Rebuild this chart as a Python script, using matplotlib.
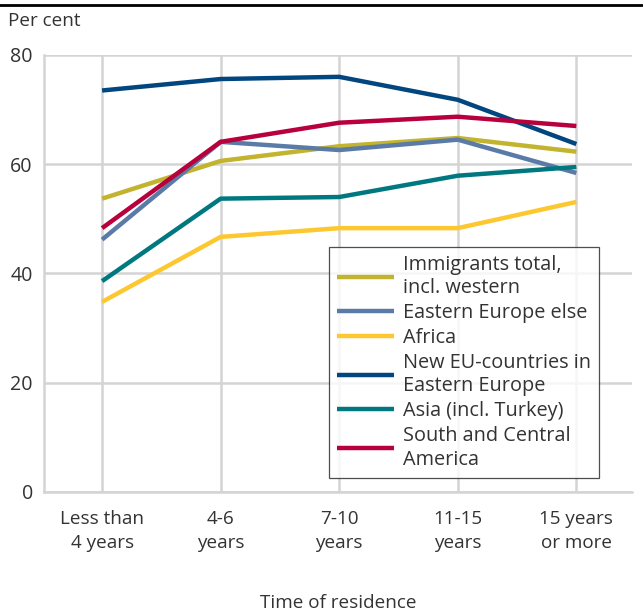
import matplotlib
matplotlib.use('Agg')
import matplotlib.pyplot as plt

plt.rcParams['font.family'] = ['Open Sans', 'DejaVu Sans']

categories = ['Less than\n4 years', '4-6\nyears', '7-10\nyears', '11-15\nyears', '15 years\nor more']
series_names = ['Immigrants total,\nincl. western', 'Eastern Europe else', 'Africa',
                'New EU-countries in\nEastern Europe', 'Asia (incl. Turkey)', 'South and Central\nAmerica']
immigrants_total = [53.7, 60.6, 63.3, 64.8, 62.3]
eastern_europe_else = [46.2, 64.1, 62.6, 64.5, 58.4]
africa = [34.8, 46.7, 48.3, 48.3, 53.1]
new_eu = [73.5, 75.6, 76.0, 71.8, 63.7]
asia = [38.6, 53.7, 54.0, 57.9, 59.5]
south_central_america = [48.3, 64.1, 67.6, 68.7, 67.0]
yticks = [0, 20, 40, 60, 80]

colors = ['#c2b42e', '#5a7ba8', '#fdc82f', '#02467f', '#00787f', '#b7003c']
# drawing order: navy on top as in the reference
draw_order = [0, 2, 4, 1, 5, 3]
values = [immigrants_total, eastern_europe_else, africa, new_eu, asia, south_central_america]

FS = 13.6
TXT = '#333333'

fig = plt.figure(figsize=(6.43, 6.11), dpi=100)
ax = fig.add_axes([0.0684, 0.1948, 0.9146, 0.7152])

x = list(range(len(categories)))
handles = {}
for i in draw_order:
    h, = ax.plot(x, values[i], color=colors[i], lw=3.2, solid_capstyle='butt', zorder=3 + i)
    handles[i] = h

ax.set_xlim(-0.49, 4.47)
ax.set_ylim(0, 80)
ax.set_xticks(x)
ax.set_xticklabels(categories, fontsize=FS, color=TXT, linespacing=1.45)
ax.set_yticks(yticks)
ax.set_yticklabels([str(v) for v in yticks], fontsize=FS + 0.5, color=TXT)
ax.tick_params(length=0, pad=8)
ax.tick_params(axis='x', pad=13)
ax.grid(True, color='#d4d4d4', lw=1.8)
ax.set_axisbelow(True)
for side in ['top', 'right']:
    ax.spines[side].set_visible(False)
for side in ['left', 'bottom']:
    ax.spines[side].set_color('#d4d4d4')
    ax.spines[side].set_linewidth(1.8)

ax.set_xlabel('Time of residence', fontsize=FS, color=TXT, labelpad=30)

leg = ax.legend([handles[i] for i in range(6)], series_names, loc='lower right',
                bbox_to_anchor=(0.943, 0.033), fontsize=14.3, frameon=True, fancybox=False,
                edgecolor='#222222', handlelength=2.85, handletextpad=0.45, labelspacing=0.24,
                borderpad=0.4, borderaxespad=0)
leg.get_frame().set_linewidth(0.9)
leg.set_zorder(20)
for t in leg.get_texts():
    t.set_color(TXT)
    t.set_linespacing(1.25)

fig.text(0.012, 0.966, 'Per cent', fontsize=FS, color=TXT, va='center', ha='left')
fig.add_artist(plt.Line2D([0, 1], [0.991, 0.991], color='black', lw=2, transform=fig.transFigure))

fig.savefig('out.png', dpi=100)
